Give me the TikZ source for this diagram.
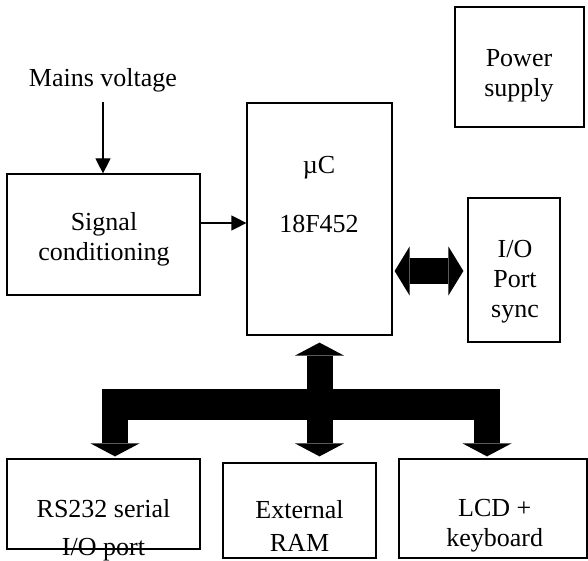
\documentclass[tikz,border=0pt]{standalone}
\usepackage{fontspec}
\setmainfont{Liberation Serif}
\usetikzlibrary{arrows.meta,fit}
\tikzset{
  box/.style={draw, line width=0.6pt, inner sep=0pt, rectangle},
  txt/.style={align=center, inner sep=0pt, font=\fontsize{13pt}{15pt}\selectfont},
  thin/.style={line width=0.6pt, -{Triangle[length=7.5pt,width=7.5pt]}},
  fat/.style={line width=13pt, -{Triangle[length=6.5pt,width=24.5pt,line width=0pt]}},
  fatdbl/.style={line width=13pt, {Triangle[length=7.5pt,width=24.5pt,line width=0pt]}-{Triangle[length=7.5pt,width=24.5pt,line width=0pt]}},
  bar/.style={line width=15.5pt}
}
\begin{document}
\begin{tikzpicture}[x=0.5pt,y=-0.5pt]
\useasboundingbox (0,0) rectangle (588,561);
% boxes
\node[box, fit={(7,174) (200,295)}] (sc) {};
\node[box, fit={(247,103) (392,335)}] (mc) {};
\node[box, fit={(455,7) (584,127)}] (ps) {};
\node[box, fit={(468,198) (560,342)}] (io) {};
\node[box, fit={(7,459) (200,549)}] (rs) {};
\node[box, fit={(223,463) (376,558)}] (ram) {};
\node[box, fit={(399,459) (587,558)}] (lcd) {};
% texts
\node[txt] (mv) at (103,80) {Mains voltage};
\node[txt] (sct) at (104,239) {Signal\\conditioning};
\node[txt] (mct1) at (319,168) {µC};
\node[txt] (mct2) at (319,224) {18F452};
\node[txt] (pst) at (519,76) {Power\\supply};
\node[txt] (iot) at (515,282) {I/O\\Port\\sync};
\node[txt] (rst) at (103.5,530) {RS232 serial\\[4pt]I/O port};
\node[txt] (ramt) at (299.5,526) {External\\[1.5pt]RAM};
\node[txt] (lcdt) at (494.7,526) {LCD +\\keyboard};
% thin arrows
\draw[thin] (mv.south) ++(0,10) coordinate (mvs) -- (sc.north -| mvs);
\coordinate (ay) at (0,223);
\draw[thin] (sc.east |- ay) -- (mc.west |- ay);
% double arrow
\coordinate (dy) at (0,271);
\draw[fatdbl, shorten <=1pt, shorten >=2pt] (mc.east |- dy) -- (io.west |- dy);
% bus
\coordinate (busL) at (102,404.5);
\coordinate (busR) at (499,404.5);
\draw[bar] (busL) -- (busR);
\coordinate (upB) at (319.5,420);
\draw[fat, shorten >=3.5pt] (upB) -- (mc.south -| upB);
\coordinate (b1) at (115,389);
\coordinate (b2) at (319.5,404.5);
\coordinate (b3) at (487,389);
\draw[fat, shorten >=1pt] (b1) -- (rs.north -| b1);
\draw[fat, shorten >=3pt] (b2) -- (ram.north -| b2);
\draw[fat, shorten >=1pt] (b3) -- (lcd.north -| b3);
\end{tikzpicture}
\end{document}
